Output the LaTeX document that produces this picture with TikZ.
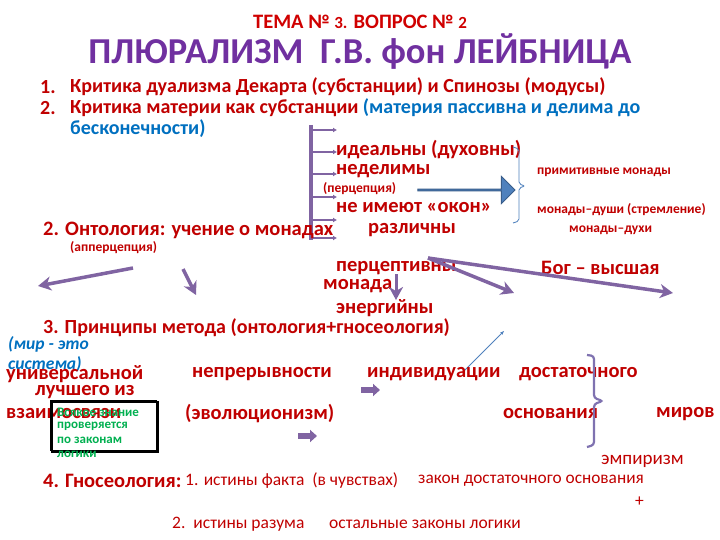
\documentclass[tikz,border=0pt]{standalone}
\usepackage{xcolor}
\usepackage{fontspec}
\setmainfont{Carlito}
\usetikzlibrary{arrows.meta,shapes.arrows,positioning}
\definecolor{darkred}{HTML}{C00000}
\definecolor{titlered}{HTML}{D00000}
\definecolor{titlepurple}{HTML}{7030A0}
\definecolor{textblue}{HTML}{0070C0}
\definecolor{arrowpurple}{HTML}{8064A2}
\definecolor{bracepurple}{HTML}{7F72B0}
\definecolor{arrowblue}{HTML}{4F81BD}
\definecolor{arrowblueline}{HTML}{385D8A}
\definecolor{notegreen}{HTML}{00B050}
\newcommand{\digits}[1]{{\fontsize{17}{19}\selectfont #1}}
\tikzset{
  txt/.style={anchor=west,inner sep=0pt,text=darkred,font=\bfseries\fontsize{20.5}{23}\selectfont},
  listtxt/.style={txt,font=\bfseries\fontsize{20}{22}\selectfont},
  smalltxt/.style={txt,font=\bfseries\fontsize{13.5}{15}\selectfont},
  plaintxt/.style={txt,font=\fontsize{17.5}{20}\selectfont},
  notetxt/.style={txt,text=notegreen,font=\bfseries\fontsize{13}{14}\selectfont},
  mirtxt/.style={txt,text=textblue,font=\bfseries\itshape\fontsize{17.5}{19}\selectfont},
  purplearrow/.style={draw=arrowpurple,line width=3.5pt,-{Stealth[length=13pt,width=14pt,inset=4pt]}},
  tickarrow/.style={draw=arrowpurple,line width=2.5pt,-{Latex[length=4pt,width=5pt]}},
  smallblock/.style={draw=arrowpurple,line width=6pt,-{Triangle[length=7pt,width=12pt]}},
}
\begin{document}
\begin{tikzpicture}[x=1pt,y=-1pt]
  \useasboundingbox[fill=white] (0,0) rectangle (720,540);

  % titles
  \node[text=titlered,font=\bfseries\fontsize{20.5}{22}\selectfont] (tema) at (360,22) {ТЕМА № \digits{3.} ВОПРОС № \digits{2}};
  \node[text=titlepurple,font=\bfseries\fontsize{36.5}{40}\selectfont] (title) at (360,52) {ПЛЮРАЛИЗМ\ \ Г.В. фон ЛЕЙБНИЦА};

  % list
  \node[listtxt] (num1) at (40,87) {1.};
  \node[listtxt] (crit1) at (70,87) {Критика дуализма Декарта (субстанции) и Спинозы (модусы)};
  \node[listtxt] (num2) at (40,108) {2.};
  \node[listtxt] (crit2) at (70,108) {Критика материи как субстанции \textcolor{textblue}{(материя пассивна и делима до}};
  \node[listtxt,text=textblue] (crit2b) at (70,129) {бесконечности)};

  % bar with ticks
  \coordinate (bartop) at (311,125);
  \coordinate (barbot) at (311,240);
  \draw[arrowpurple,line width=3.5pt] (bartop) -- (barbot);
  \foreach \y in {130,152,174,197,220,238}
    \draw[tickarrow] (311,\y) -- (337,\y);

  % ontology
  \node[txt] (ideal) at (336,150) {идеальны (духовны)};
  \node[txt] (nedel) at (336,171) {неделимы};
  \node[smalltxt] (percep) at (323,189) {(перцепция)};
  \node[txt] (okon) at (336,208) {не имеют «окон»};
  \node[txt] (ontol) at (43,230) {2. Онтология: учение о монадах};
  \node[txt] (razl) at (368,230) {различны};
  \node[smalltxt] (apperc) at (70,248) {(апперцепция)};

  \node[single arrow,fill=arrowblue,draw=arrowblueline,line width=1pt,minimum height=97pt,
    minimum width=27pt,single arrow head extend=6.5pt,inner sep=0pt] (bigarrow) at (466,190) {};
  \draw[arrowblue,line width=0.8pt,rounded corners=2pt]
    (513,147) -- (519,149) -- (519,184) -- (525,186) -- (519,188) -- (519,221) -- (513,223);

  \node[smalltxt] (prim) at (537,172) {примитивные монады};
  \node[smalltxt] (dushi) at (537,210) {монады–души (стремление)};
  \node[smalltxt] (duhi) at (569,230) {монады–духи};

  \node[txt] (perceptiv) at (336,268) {перцептивны};
  \node[txt] (bog) at (541,268) {Бог – высшая};
  \node[txt] (monada) at (323,286) {монада};
  \node[txt] (energ) at (336,308) {энергийны};

  % purple arrows
  \coordinate (a1s) at (133,268);
  \coordinate (a1e) at (38,286);
  \coordinate (a2s) at (183,269);
  \coordinate (a2e) at (196,295);
  \coordinate (a3s) at (396,274);
  \coordinate (a3e) at (396,300);
  \coordinate (a4s) at (428,258);
  \coordinate (a4e) at (514,293);
  \coordinate (a5e) at (673,293);
  \draw[purplearrow] (a1s) -- (a1e);
  \draw[purplearrow] (a2s) -- (a2e);
  \draw[purplearrow,line width=3pt] (a3s) -- (a3e);
  \draw[purplearrow] (a4s) -- (a4e);
  \draw[purplearrow] (a4s) -- (a5e);

  % principles
  \node[txt,font=\bfseries\fontsize{20}{22}\selectfont] (princ) at (43,328) {3. Принципы метода (онтология+гносеология)};
  \node[mirtxt] (mir) at (8,344) {(мир - это};
  \node[mirtxt] (sistema) at (8,364) {система)};

  \coordinate (lines) at (463,372);
  \coordinate (linee) at (504,331);
  \draw[arrowblue,line width=0.8pt,-{Stealth[length=4pt,width=3pt]}] (lines) -- (linee);

  \node[txt] (univ) at (6,374) {универсальной};
  \node[txt] (nepr) at (192,374) {непрерывности};
  \node[txt] (indiv) at (367,374) {индивидуации};
  \node[txt] (dost) at (519,374) {достаточного};
  \node[txt] (luch) at (35,392) {лучшего из};
  \node[txt] (vzaim) at (6,414) {взаимосвязи};
  \node[txt] (evol) at (185,414) {(эволюционизм)};
  \node[txt] (osnov) at (503,414) {основания};
  \node[txt] (mirov) at (656,414) {миров};

  \coordinate (blockAs) at (361,390);
  \coordinate (blockAe) at (380,390);
  \coordinate (blockBs) at (298,436);
  \coordinate (blockBe) at (317,436);
  \draw[smallblock] (blockAs) -- (blockAe);
  \draw[smallblock] (blockBs) -- (blockBe);

  \draw[bracepurple,line width=2.2pt,rounded corners=3pt]
    (587,355) -- (594,356) -- (594,398) -- (603,401) -- (594,404) -- (594,445) -- (587,447);

  % note box
  \draw[black,line width=2pt] (52,402) rectangle (158,452);
  \draw[black,line width=1pt,fill=none] (50,400) rectangle (156,450);
  \node[notetxt] (note1) at (57,412) {Всякое знание};
  \node[notetxt] (note2) at (57,426) {проверяется};
  \node[notetxt] (note3) at (57,440) {по законам};
  \node[notetxt] (note4) at (57,454) {логики};

  % gnoseology
  \node[plaintxt,font=\fontsize{19}{21}\selectfont] (empir) at (601,461) {эмпиризм};
  \node[txt,font=\bfseries\fontsize{20.5}{23}\selectfont] (gnos) at (43,481) {4. Гносеология:};
  \node[plaintxt] (fact) at (185,481) {1. истины факта\ \ (в чувствах)};
  \node[plaintxt,font=\fontsize{17.3}{20}\selectfont] (zakon) at (418,481) {закон достаточного основания};
  \node[plaintxt] (plus) at (635,502) {+};
  \node[plaintxt] (razum) at (172,524) {2.\ \ истины разума};
  \node[plaintxt] (ostal) at (329,524) {остальные законы логики};
\end{tikzpicture}
\end{document}
